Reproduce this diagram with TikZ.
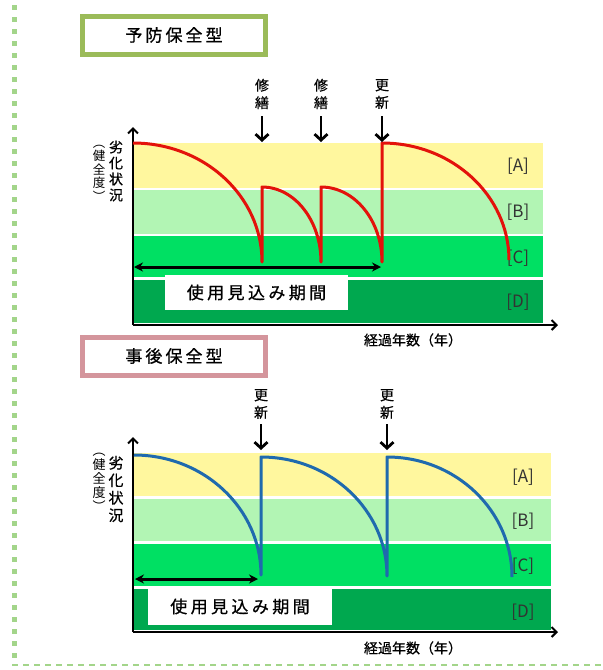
\documentclass[tikz,border=0pt]{standalone}
\usepackage{fontspec}
\setmainfont{Noto Sans CJK JP}
\usetikzlibrary{arrows.meta}
\definecolor{bandA}{HTML}{FFF79E}
\definecolor{bandB}{HTML}{B2F5B4}
\definecolor{bandC}{HTML}{00E063}
\definecolor{bandD}{HTML}{00A84F}
\definecolor{titleG}{HTML}{9BBB59}
\definecolor{titleP}{HTML}{D4959C}
\definecolor{frameG}{HTML}{A3D58A}
\definecolor{curveR}{HTML}{E3120B}
\definecolor{curveB}{HTML}{1F6AAE}
\definecolor{lblgray}{HTML}{333333}
\tikzset{
  titlebox/.style={draw=#1, line width=5pt, fill=white, minimum width=183pt, minimum height=38pt, inner sep=0pt, font=\fontsize{17}{17}\selectfont\addfontfeature{LetterSpace=18,FakeBold=0.8}},
  bandlbl/.style={font=\fontsize{17}{17}\selectfont, text=lblgray, inner sep=0pt},
  axis/.style={line width=2pt, -{Straight Barb[length=5pt,width=10pt,line width=2pt]}},
  downarrow/.style={line width=2.8pt, -{Straight Barb[length=6pt,width=13pt,line width=2.8pt]}},
  spanarrow/.style={line width=3pt, {Stealth[length=9pt,width=9pt]}-{Stealth[length=9pt,width=9pt]}},
  vlabel/.style={align=center, inner sep=0pt, font=\fontsize{14}{16}\selectfont\addfontfeature{FakeBold=0.6}},
  vlabelS/.style={align=center, inner sep=0pt, font=\fontsize{12.5}{13.5}\selectfont},
  actlabel/.style={align=center, inner sep=0pt, font=\fontsize{14}{17.5}\selectfont\addfontfeature{FakeBold=0.6}},
  spanbox/.style={fill=white, inner sep=0pt, font=\fontsize{17}{17}\selectfont\addfontfeature{LetterSpace=20,FakeBold=0.6}},
  xlabel/.style={inner sep=0pt, font=\fontsize{14}{14}\selectfont\addfontfeature{FakeBold=0.6}},
  redc/.style={draw=curveR, line width=3pt, line join=round},
  bluec/.style={draw=curveB, line width=3pt, line join=round}
}
\begin{document}
\begin{tikzpicture}[x=1pt,y=-1pt]
\useasboundingbox (0,0) rectangle (603,670);
% frame
\draw[frameG, line width=5pt, dash pattern=on 5pt off 7pt] (14,5) -- (14,664);
\draw[frameG, line width=2.2pt, dash pattern=on 6pt off 5pt] (12,665) -- (603,665);

%% ===== top panel =====
\node[titlebox=titleG] (t1) at (174,35) {予防保全型};
\fill[bandA] (133,143) rectangle (543,188);
\fill[bandB] (133,190) rectangle (543,234);
\fill[bandC] (133,236) rectangle (543,277);
\fill[bandD] (133,280) rectangle (543,323);
\node[bandlbl] (a1) at (518,166) {[A]};
\node[bandlbl] (b1) at (518,212) {[B]};
\node[bandlbl] (c1) at (518,258) {[C]};
\node[bandlbl] (d1) at (518,302) {[D]};

\coordinate (o1) at (133,325);
\coordinate (ytop1) at (133,127);
\coordinate (xend1) at (558,325);
\draw[axis] (o1) -- (ytop1);
\draw[axis] (o1) -- (xend1);

\node[vlabel] (yl1) at (116,171) {劣\\化\\状\\況};
\node[vlabelS] (yp1) at (99,173) {︵\\健\\全\\度\\︶};
\node[xlabel] (xl1) at (413,340) {経過年数（年）};

% span
\node[spanbox, minimum width=183pt, minimum height=35pt] (sb1) at (256.5,292.5) {使用見込み期間};
\coordinate (s1a) at (134,267);
\coordinate (s1b) at (381,267);
\draw[spanarrow] (s1a) -- (s1b);

% red curve
\coordinate (r0) at (133,143);
\coordinate (r1) at (262,262);
\coordinate (r1t) at (262,187);
\coordinate (r2) at (321,262);
\coordinate (r2t) at (321,187);
\coordinate (r3) at (382,262);
\coordinate (r3t) at (382,143);
\coordinate (r4) at (509,260);
\draw[redc] (r0) .. controls (204,143) and (262,196) .. (r1) -- (r1t)
  .. controls (294.6,187) and (321,220.6) .. (r2) -- (r2t)
  .. controls (354.7,187) and (382,220.6) .. (r3) -- (r3t)
  .. controls (452,143) and (509,195.4) .. (r4);

% actions
\node[actlabel] (m1) at (262,94) {修\\繕};
\node[actlabel] (m2) at (321,94) {修\\繕};
\node[actlabel] (u1) at (382,94) {更\\新};
\coordinate (m1e) at (262,142);
\coordinate (m2e) at (321,142);
\coordinate (u1e) at (382,142);
\draw[downarrow] (262,116) -- (m1e);
\draw[downarrow] (321,116) -- (m2e);
\draw[downarrow] (382,116) -- (u1e);

%% ===== bottom panel =====
\node[titlebox=titleP] (t2) at (174,356) {事後保全型};
\fill[bandA] (134,453) rectangle (551,496);
\fill[bandB] (134,499) rectangle (551,541);
\fill[bandC] (134,544) rectangle (551,586);
\fill[bandD] (134,589) rectangle (551,630);
\node[bandlbl] (a2) at (523,477) {[A]};
\node[bandlbl] (b2) at (523,521) {[B]};
\node[bandlbl] (c2) at (523,566) {[C]};
\node[bandlbl] (d2) at (523,612) {[D]};

\coordinate (o2) at (133,632);
\coordinate (ytop2) at (133,437);
\coordinate (xend2) at (558,632);
\draw[axis] (o2) -- (ytop2);
\draw[axis] (o2) -- (xend2);

\node[vlabel, font=\fontsize{15}{17.5}\selectfont\addfontfeature{FakeBold=0.6}] (yl2) at (116,489) {劣\\化\\状\\況};
\node[vlabelS, font=\fontsize{13}{14}\selectfont] (yp2) at (99,482) {︵\\健\\全\\度\\︶};
\node[xlabel] (xl2) at (413,648) {経過年数（年）};

\node[spanbox, minimum width=184pt, minimum height=37pt] (sb2) at (240,606.5) {使用見込み期間};
\coordinate (s2a) at (135,579);
\coordinate (s2b) at (258,579);
\draw[spanarrow] (s2a) -- (s2b);

% blue curve
\coordinate (q0) at (134,455);
\coordinate (q1) at (261,575);
\coordinate (q1t) at (261,457);
\coordinate (q2) at (387,576);
\coordinate (q2t) at (387,457);
\coordinate (q3) at (512,577);
\draw[bluec] (q0) .. controls (204,455) and (261,508.7) .. (q1) -- (q1t)
  .. controls (330.6,457) and (387,510.3) .. (q2) -- (q2t)
  .. controls (456,457) and (512,510.7) .. (q3);

\node[actlabel] (u2) at (261,404) {更\\新};
\node[actlabel] (u3) at (387,404) {更\\新};
\coordinate (u2e) at (261,450);
\coordinate (u3e) at (387,450);
\draw[downarrow] (261,424) -- (u2e);
\draw[downarrow] (387,424) -- (u3e);
\end{tikzpicture}
\end{document}
